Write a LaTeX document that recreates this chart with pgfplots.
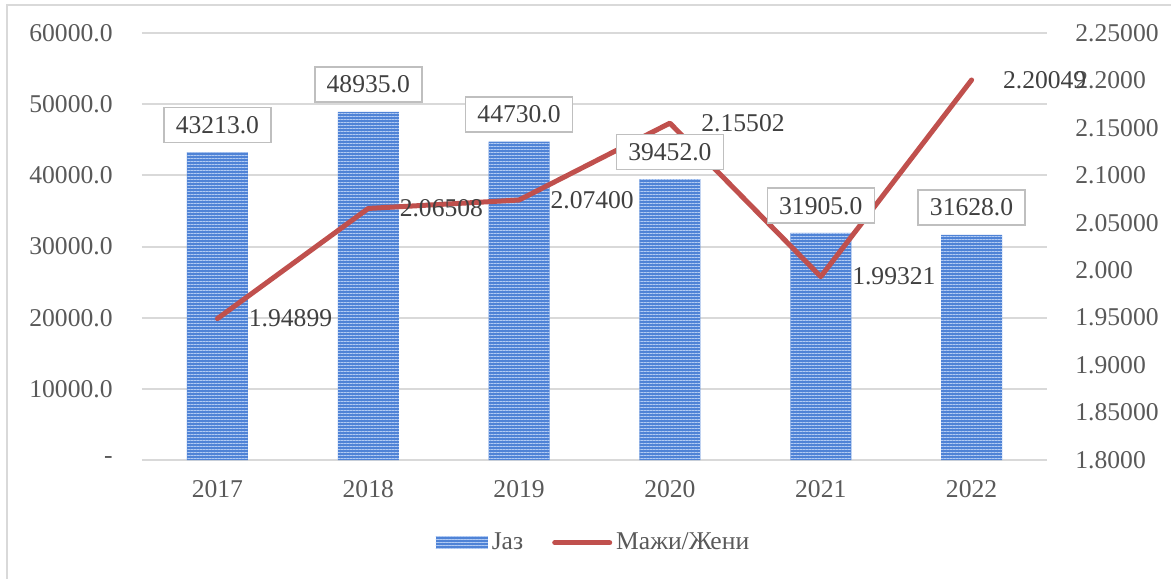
\documentclass[border=0pt]{standalone}
\usepackage{fontspec}
\setmainfont{Liberation Serif}
\usepackage{pgfplots}
\pgfplotsset{compat=1.18}
\usetikzlibrary{patterns.meta}
\definecolor{barblue}{HTML}{4F83D6}
\definecolor{stripe}{HTML}{B2CBF3}
\definecolor{linered}{HTML}{C0504D}
\definecolor{gridgray}{HTML}{D9D9D9}
\definecolor{ticktext}{HTML}{595959}
\definecolor{labeltext}{HTML}{404040}
\definecolor{boxgray}{HTML}{BFBFBF}
\newcommand{\lblfont}{\fontsize{12.8}{14}\selectfont}
\pgfplotsset{
  common/.style={
    scale only axis, width=452.5pt, height=213.5pt,
    xmin=-0.5, xmax=5.5, clip=false, scaled y ticks=false,
    axis line style={draw=none}, major tick length=0pt,
    tick label style={font=\lblfont, text=ticktext, inner sep=0pt},
  },
}
\begin{document}
\begin{tikzpicture}
\useasboundingbox (-71pt,-59pt) rectangle (514.5pt,230pt);
\draw[gridgray, line width=1pt] (-67.5pt,-70pt) -- (-67.5pt,227.5pt) -- (530pt,227.5pt);
\begin{axis}[common,
  ymin=0, ymax=60000, ytick={0,10000,20000,30000,40000,50000,60000},
  yticklabels={{-\hspace{5pt}},10000.0,20000.0,30000.0,40000.0,50000.0,60000.0},
  ymajorgrids, grid style={gridgray, line width=1pt},
  xtick={0,1,2,3,4,5}, xticklabels={2017,2018,2019,2020,2021,2022},
  yticklabel shift=14.5pt, xticklabel shift=10pt,
  legend columns=2,
  legend style={at={(axis description cs:0.5,-0.194)}, anchor=center, draw=none, fill=none,
    font=\lblfont, text=ticktext,
    /tikz/every even column/.append style={column sep=12.5pt}},
]
\addplot[ybar, bar width=30.5pt, fill=barblue, draw=none,
  postaction={pattern={Lines[angle=0,distance=1.5pt,line width=0.4pt]}, pattern color=stripe},
  legend image code/.code={\path[fill=barblue, postaction={pattern={Lines[angle=0,distance=1.5pt,line width=0.4pt]}, pattern color=stripe}] (0pt,-3.25pt) rectangle (26pt,3.25pt);}]
  coordinates {(0,43213) (1,48935) (2,44730) (3,39452) (4,31905) (5,31628)};
\addlegendentry{Јаз}
\addlegendimage{legend image code/.code={\draw[linered, line width=2.5pt, line cap=round] (0pt,0pt) -- (27.5pt,0pt);}}
\addlegendentry{Мажи/Жени}
\end{axis}
\begin{axis}[common,
  ymin=1.8, ymax=2.25, ytick={1.8,1.85,1.9,1.95,2,2.05,2.1,2.15,2.2,2.25},
  yticklabels={1.8000,1.85000,1.9000,1.95000,2.000,2.05000,2.1000,2.15000,2.2000,2.25000},
  yticklabel pos=right, yticklabel shift=14pt,
  xtick=\empty,
]
\addplot[linered, line width=2.5pt, line cap=round, line join=round, mark=none,
  point meta=explicit symbolic, nodes near coords,
  every node near coord/.append style={anchor=west, xshift=14.5pt, inner sep=0pt, font=\lblfont, text=labeltext}]
  coordinates {(0,1.94899)[1.94899] (1,2.06508)[2.06508] (2,2.07400)[2.07400] (3,2.15502)[2.15502] (4,1.99321)[1.99321] (5,2.20049)[2.20049]};
\end{axis}
\begin{axis}[common, hide axis, ymin=0, ymax=60000]
\addplot[draw=none, mark=none, point meta=explicit symbolic, nodes near coords,
  every node near coord/.append style={anchor=south, yshift=4.5pt, draw=boxgray, line width=0.75pt, fill=white,
    text=labeltext, minimum width=53.5pt, minimum height=17.5pt, inner sep=0pt, font=\lblfont}]
  coordinates {(0,43213)[43213.0] (1,48935)[48935.0] (2,44730)[44730.0] (3,39452)[39452.0] (4,31905)[31905.0] (5,31628)[31628.0]};
\end{axis}
\end{tikzpicture}
\end{document}
